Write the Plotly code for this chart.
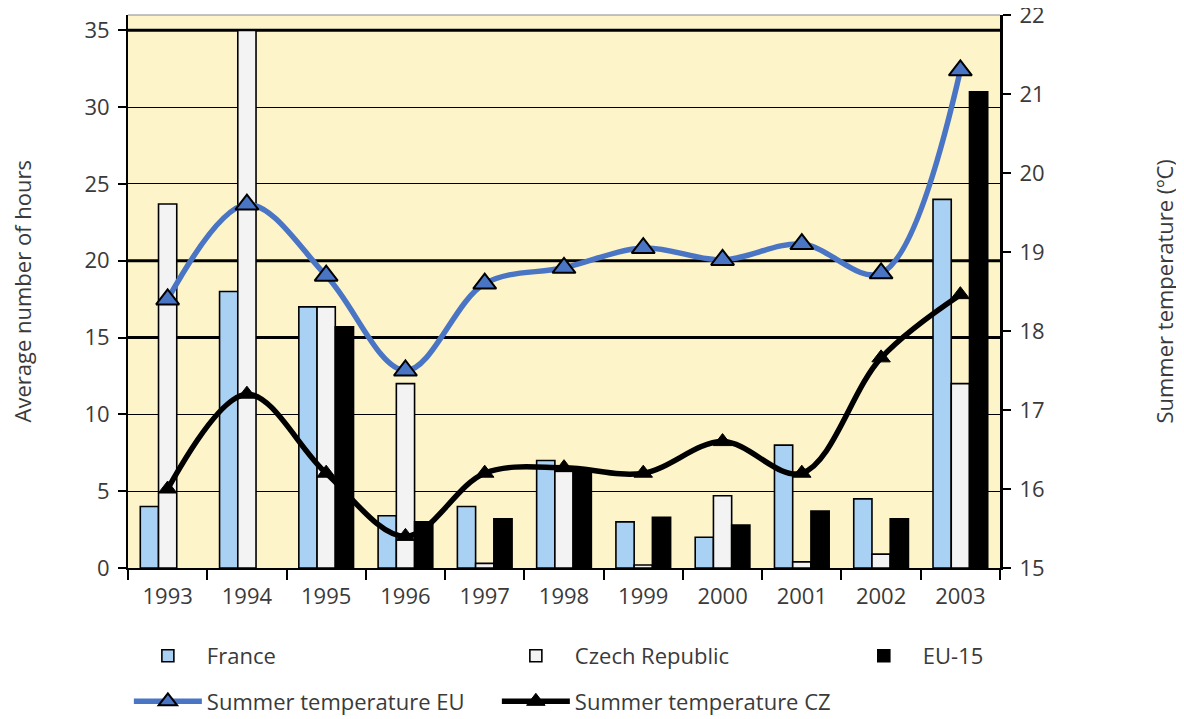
import plotly.graph_objects as go

years = ["1993", "1994", "1995", "1996", "1997", "1998", "1999", "2000", "2001", "2002", "2003"]
france = [4.0, 18.0, 17.0, 3.4, 4.0, 7.0, 3.0, 2.0, 8.0, 4.5, 24.0]
czech = [23.7, 35.0, 17.0, 12.0, 0.3, 6.3, 0.2, 4.7, 0.4, 0.9, 12.0]
eu15 = [None, None, 15.7, 3.0, 3.2, 6.4, 3.3, 2.8, 3.7, 3.2, 31.0]
temp_eu = [18.4, 19.6, 18.7, 17.5, 18.6, 18.8, 19.05, 18.9, 19.1, 18.73, 21.3]
temp_cz = [16.0, 17.2, 16.2, 15.4, 16.2, 16.27, 16.2, 16.6, 16.2, 17.66, 18.46]

left_ticks = [0, 5, 10, 15, 20, 25, 30, 35]
right_ticks = [15, 16, 17, 18, 19, 20, 21, 22]
thick_grid = [15, 20, 35]

FONT = "Open Sans"
FS = 22
TXT = "#3a3a3a"
BLUE = "#4a75c4"

fig = go.Figure()
fig.add_trace(go.Bar(x=years, y=france, name="France", marker=dict(color="#a9d1f3", line=dict(color="black", width=1.6)),
                     legend="legend", legendgroup="a", legendrank=1))
fig.add_trace(go.Bar(x=years, y=czech, name="Czech Republic", marker=dict(color="#f3f3f3", line=dict(color="black", width=1.6)),
                     legend="legend2", legendgroup="c", legendrank=1))
fig.add_trace(go.Bar(x=years, y=eu15, name="EU-15", marker=dict(color="black", line=dict(color="black", width=1.6)),
                     legend="legend3", legendgroup="e"))
fig.add_trace(go.Scatter(x=years, y=temp_eu, name="Summer temperature EU", yaxis="y2", mode="lines+markers",
                         line=dict(color=BLUE, width=5.5, shape="spline", smoothing=1.0),
                         marker=dict(symbol="triangle-up", size=20, color=BLUE, line=dict(color="black", width=2)),
                         legend="legend", legendgroup="b", legendrank=2))
fig.add_trace(go.Scatter(x=years, y=temp_cz, name="Summer temperature CZ", yaxis="y2", mode="lines+markers",
                         line=dict(color="black", width=5.5, shape="spline", smoothing=1.0),
                         marker=dict(symbol="triangle-up", size=16, color="black", line=dict(color="black", width=1)),
                         legend="legend2", legendgroup="d", legendrank=2))

for v in thick_grid:
    fig.add_shape(type="line", xref="paper", yref="y", x0=0, x1=1, y0=v, y1=v,
                  line=dict(color="black", width=3), layer="below")
fig.add_shape(type="line", xref="paper", yref="paper", x0=0, x1=1, y0=1, y1=1,
              line=dict(color="#888888", width=1))

fig.add_annotation(text="Average number of hours", xref="paper", yref="paper", x=-0.1216, y=0.5,
                   textangle=-90, showarrow=False, xanchor="center", yanchor="middle",
                   font=dict(family=FONT, size=FS, color=TXT))
fig.add_annotation(text="Summer temperature (ºC)", xref="paper", yref="paper", x=1.187, y=0.5,
                   textangle=-90, showarrow=False, xanchor="center", yanchor="middle",
                   font=dict(family=FONT, size=FS, color=TXT))

legend_common = dict(orientation="v", font=dict(family=FONT, size=FS, color=TXT), bgcolor="rgba(0,0,0,0)",
                     tracegroupgap=14, yanchor="top", xanchor="left", itemwidth=68)

fig.update_layout(
    width=1176, height=711,
    margin=dict(l=120, r=184, t=7, b=151, autoexpand=False),
    paper_bgcolor="white", plot_bgcolor="#fef4c9",
    barmode="group", bargap=0.31, bargroupgap=0.0,
    font=dict(family=FONT, size=FS, color=TXT),
    xaxis=dict(type="category", range=[-0.5, len(years) - 0.5], tickson="boundaries", ticks="outside",
               ticklen=10, tickwidth=2, tickcolor="black",
               showline=True, linecolor="black", linewidth=2, showgrid=False, automargin=False,
               ticklabelstandoff=8, tickfont=dict(family=FONT, size=FS, color=TXT)),
    yaxis=dict(range=[0, 36], tickvals=left_ticks, ticks="outside", ticklen=8, tickwidth=2, tickcolor="black",
               showline=True, linecolor="black", linewidth=2, showgrid=True, gridcolor="black", gridwidth=1.3,
               zeroline=False, automargin=False, ticklabelstandoff=4, ticklabeloverflow="allow",
               tickfont=dict(family=FONT, size=FS, color=TXT)),
    yaxis2=dict(range=[15, 22], tickvals=right_ticks, overlaying="y", side="right", ticks="outside", ticklen=8,
                tickwidth=2, tickcolor="black", showline=True, linecolor="black", linewidth=3, showgrid=False,
                zeroline=False, automargin=False, ticklabelstandoff=4, ticklabeloverflow="allow",
                tickfont=dict(family=FONT, size=FS, color=TXT)),
    legend=dict(x=0.001, y=-0.121, **legend_common),
    legend2=dict(x=0.423, y=-0.121, **legend_common),
    legend3=dict(x=0.822, y=-0.121, **legend_common),
)

fig.write_html("out.html")
